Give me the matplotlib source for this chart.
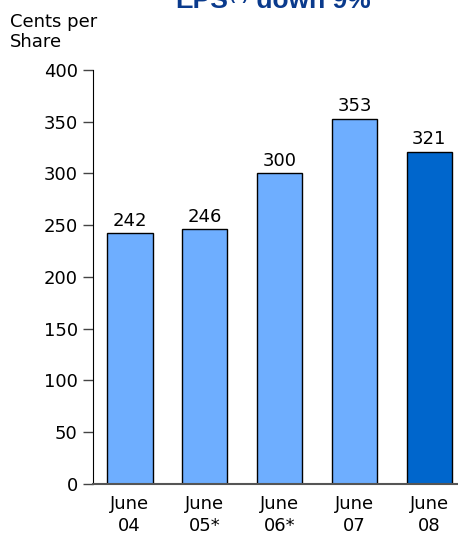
import matplotlib.pyplot as plt

# EPS per year, cents per share
years = ["June\n04", "June\n05*", "June\n06*", "June\n07", "June\n08"]
eps = [242, 246, 300, 353, 321]
colors = ["#6eaeff", "#6eaeff", "#6eaeff", "#6eaeff", "#0066cc"]
yticks = [0, 50, 100, 150, 200, 250, 300, 350, 400]

plt.rcParams["font.family"] = ["DejaVu Sans"]

fig = plt.figure(figsize=(4.58, 5.35), dpi=100)
ax = fig.add_axes([0.203, 0.0953, 0.795, 0.774])

x = range(len(eps))
ax.bar(x, eps, width=0.61, color=colors, edgecolor="black", linewidth=1.0, zorder=2)
for xi, v in zip(x, eps):
    ax.text(xi, v + 7, str(v), ha="center", va="baseline", fontsize=13)

ax.set_xlim(-0.49, 4.37)
ax.set_ylim(0, 400)
ax.set_yticks(yticks)
ax.set_xticks(list(x))
ax.set_xticklabels(years, fontsize=13, linespacing=1.3)
ax.tick_params(axis="y", labelsize=13, length=7, width=1, color="#444444", pad=4)
ax.tick_params(axis="x", length=0, pad=8)

ax.spines["top"].set_visible(False)
ax.spines["right"].set_visible(False)
ax.spines["left"].set_color("black")
ax.spines["bottom"].set_color("#555555")
ax.spines["bottom"].set_linewidth(1.5)

fig.text(0.022, 0.975, "Cents per\nShare", ha="left", va="top", fontsize=13,
         linespacing=1.15)

# title: EPS with a small raised footnote marker, clipped by the top edge
navy = "#0a3a8c"
t1 = fig.text(0.382, 0.985, "EPS", ha="left", va="baseline",
              fontsize=19, fontweight="bold", color=navy, family="Liberation Sans")
t2 = ax.annotate("(1)", xy=(1, 0), xycoords=t1, xytext=(1, 7), textcoords="offset points",
                 ha="left", va="bottom", fontsize=11, fontweight="bold", color=navy,
                 family="Liberation Sans", annotation_clip=False)
ax.annotate(" down 9%", xy=(1, 0), xycoords=(t2, t1), xytext=(1, 0), textcoords="offset points",
            ha="left", va="bottom", fontsize=19, fontweight="bold", color=navy,
            family="Liberation Sans", annotation_clip=False)

fig.savefig("out.png", dpi=100)
